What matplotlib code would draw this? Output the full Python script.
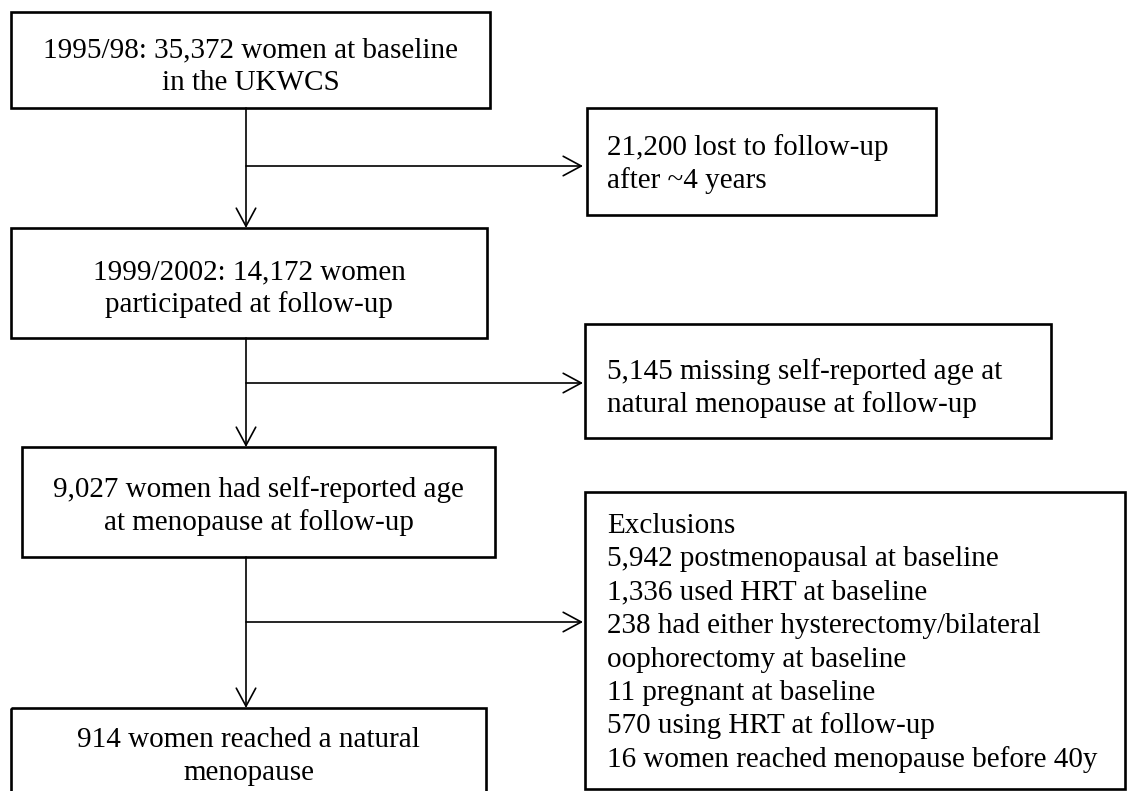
import matplotlib.pyplot as plt
from matplotlib.patches import Rectangle

# box texts (main column, top to bottom)
main_steps = [
    "1995/98: 35,372 women at baseline\nin the UKWCS",
    "1999/2002: 14,172 women\nparticipated at follow-up",
    "9,027 women had self-reported age\nat menopause at follow-up",
    "914 women reached a natural\nmenopause",
]

# side boxes (people dropped at each step)
side_steps = [
    "21,200 lost to follow-up\nafter ~4 years",
    "5,145 missing self-reported age at\nnatural menopause at follow-up",
]
exclusions = [
    "Exclusions",
    "5,942 postmenopausal at baseline",
    "1,336 used HRT at baseline",
    "238 had either hysterectomy/bilateral",
    "oophorectomy at baseline",
    "11 pregnant at baseline",
    "570 using HRT at follow-up",
    "16 women reached menopause before 40y",
]
side_steps.append("\n".join(exclusions))

# layout in pixels (x0, y0, x1, y1), y measured from the top
main_boxes = [(11, 12, 490, 108), (11, 228, 487, 338), (22, 447, 495, 557), (11, 708, 486, 800)]
main_base = [57, 279, 497, 747]
side_boxes = [(587, 108, 936, 215), (585, 324, 1051, 438), (585, 492, 1125, 789)]
side_base = [155, 379, 533]
side_text_x = 607
trunk_x = 246
branch_y = [166, 383, 622]
tip_x = 583
line_step = 33.4

fig = plt.figure(figsize=(11.27, 7.91), dpi=100)
ax = fig.add_axes([0, 0, 1, 1])
ax.set_xlim(0, 1127)
ax.set_ylim(791, 0)
ax.axis("off")

font = dict(family="Liberation Serif", fontsize=21, color="black")
arrow = dict(arrowstyle="->,head_length=0.65,head_width=0.35", color="black",
             lw=1.2, shrinkA=0, shrinkB=0, mutation_scale=20)


def box(b, lw=1.9):
    x0, y0, x1, y1 = b
    ax.add_patch(Rectangle((x0, y0), x1 - x0, y1 - y0, fill=False,
                           ec="black", lw=lw, clip_on=True))


for b, txt, y in zip(main_boxes, main_steps, main_base):
    box(b)
    cx = (b[0] + b[2]) / 2
    for i, line in enumerate(txt.split("\n")):
        ax.text(cx, y + i * line_step, line, ha="center", va="baseline", **font)

for b, txt, y in zip(side_boxes, side_steps, side_base):
    box(b)
    for i, line in enumerate(txt.split("\n")):
        ax.text(side_text_x, y + i * line_step, line, ha="left", va="baseline", **font)

# vertical arrows between main boxes, and branches to the side boxes
for k in range(3):
    top = main_boxes[k][3]
    nxt = main_boxes[k + 1][1]
    ax.annotate("", xy=(trunk_x, nxt), xytext=(trunk_x, top), arrowprops=arrow)
    ax.annotate("", xy=(tip_x, branch_y[k]), xytext=(trunk_x, branch_y[k]), arrowprops=arrow)

fig.savefig("out.png", dpi=100)
